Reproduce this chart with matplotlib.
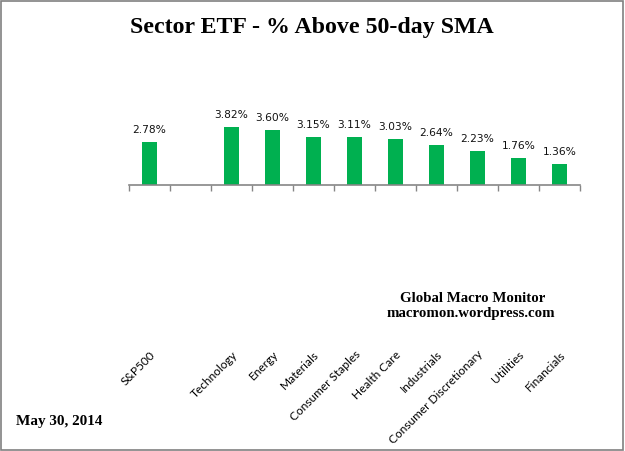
import matplotlib
matplotlib.use("Agg")
import matplotlib.pyplot as plt
from matplotlib.patches import Rectangle

# Sector ETF data, May 30, 2014
sectors = ["S&P500", "", "Technology", "Energy", "Materials", "Consumer Staples",
           "Health Care", "Industrials", "Consumer Discretionary", "Utilities", "Financials"]
values = [2.78, None, 3.82, 3.60, 3.15, 3.11, 3.03, 2.64, 2.23, 1.76, 1.36]

BAR_GREEN = "#00B050"
AXIS_GRAY = "#868686"

W, H = 625, 451
fig = plt.figure(figsize=(W / 100, H / 100), dpi=100)
fig.patch.set_facecolor("white")

# plot area in pixel terms
x0, x1, y_axis, y_top = 129, 580, 185, 60
ax = fig.add_axes([x0 / W, 1 - y_axis / H, (x1 - x0) / W, (y_axis - y_top) / H])
ax.set_facecolor("none")

xs = list(range(len(sectors)))
for x, v in zip(xs, values):
    if v is None:
        continue
    ax.bar(x, v, width=0.39, color=BAR_GREEN, zorder=2)
    ax.annotate(f"{v:.2f}%", (x, v), xytext=(0, 6.5), textcoords="offset points",
                ha="center", va="baseline", fontsize=7.7, family="DejaVu Sans",
                color="#111111")

ax.set_xlim(-0.5, len(sectors) - 0.5)
ax.set_ylim(0, 125 / 15.3)

for side in ["top", "right", "left"]:
    ax.spines[side].set_visible(False)
ax.spines["bottom"].set_color(AXIS_GRAY)
ax.spines["bottom"].set_linewidth(1.2)
ax.set_yticks([])

# tick marks at category boundaries, labels at centers
ax.set_xticks([i - 0.5 for i in range(len(sectors) + 1)], minor=True)
ax.tick_params(axis="x", which="minor", length=4, width=1.0, color=AXIS_GRAY, direction="out")
ax.set_xticks(xs)
ax.set_xticklabels(sectors, rotation=45, ha="right", rotation_mode="anchor",
                   fontsize=8.6, family="Lato")
ax.tick_params(axis="x", which="major", length=0, pad=118)

fig.text(312 / W, 1 - 33 / H, "Sector ETF - % Above 50-day SMA", ha="center", va="baseline",
         fontsize=17.2, fontweight="bold", family="Liberation Serif")
fig.text(473 / W, 1 - 302 / H, "Global Macro Monitor", ha="center", va="baseline",
         fontsize=10.7, fontweight="bold", family="Liberation Serif")
fig.text(471 / W, 1 - 317 / H, "macromon.wordpress.com", ha="center", va="baseline",
         fontsize=10.7, fontweight="bold", family="Liberation Serif")
fig.text(16 / W, 1 - 425 / H, "May 30, 2014", ha="left", va="baseline",
         fontsize=10.9, fontweight="bold", family="Liberation Serif")

# outer frame
fig.patches.append(Rectangle((0.5 / W, 1 - 449.5 / H), 622 / W, 449 / H,
                             transform=fig.transFigure, fill=False,
                             edgecolor="#808080", linewidth=1.2))

fig.savefig("out.png", dpi=100)
